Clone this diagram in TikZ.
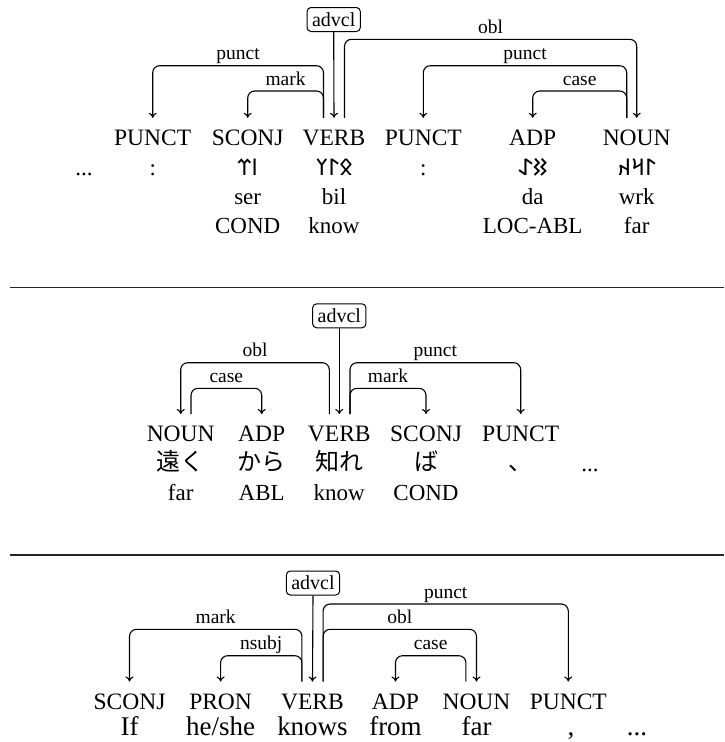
\documentclass[tikz,border=0pt]{standalone}
\usepackage{fontspec}
\usetikzlibrary{arrows.meta}
\setmainfont{Liberation Serif}
\newfontfamily\cjk{Noto Sans CJK JP}
\IfFontExistsTF{Noto Sans Old Turkic}{\newfontfamily\turk{Noto Sans Old Turkic}}{\newfontfamily\turk{DejaVu Sans}}
\TeXXeTstate=1
\begin{document}
\begin{tikzpicture}[x=1pt,y=-1pt,
  ptag/.style={anchor=base,inner sep=0pt,text height=17pt,text depth=5pt,font=\fontsize{23.5}{26}\selectfont},
  wrd/.style={anchor=base,inner sep=0pt,font=\fontsize{23}{26}\selectfont},
  rune/.style={anchor=base,inner sep=0pt,font=\turk\fontsize{23}{26}\selectfont},
  jp/.style={anchor=base,inner sep=0pt,font=\cjk\fontsize{24}{27}\selectfont},
  big/.style={anchor=base,inner sep=0pt,font=\fontsize{27}{30}\selectfont},
  lab/.style={anchor=base,inner sep=0pt,yshift=6pt,font=\fontsize{19.5}{22}\selectfont},
  dep/.style={draw,line width=1.1pt,rounded corners=7pt,-{To[length=5pt,width=8pt]}},
  rootbox/.style={draw,line width=1pt,rounded corners=4pt,inner xsep=5pt,inner ysep=4.5pt,text height=14pt,text depth=1pt,font=\fontsize{20}{22}\selectfont},
  sep/.style={line width=1.5pt,draw=black!85}
]
\useasboundingbox (0,0) rectangle (724,742);

% ---------------- diagram 1 ----------------
\coordinate (p1) at (0,39.3);
\coordinate (p2) at (0,65.7);
\coordinate (p3) at (0,91);
\node[ptag] (a1) at (152.7,145.5) {PUNCT};
\node[ptag] (a2) at (247.7,145.5) {SCONJ};
\node[ptag] (a3) at (334,145.5) {VERB};
\node[ptag] (a4) at (423.3,145.5) {PUNCT};
\node[ptag] (a5) at (532.7,145.5) {ADP};
\node[ptag] (a6) at (636.7,145.5) {NOUN};
\node[wrd] (r0) at (84,175) {...};
\node[wrd] (r1) at (152.7,175) {:};
\node[rune] (r2) at (247.7,175) {\beginR ^^^^^^010c3e^^^^^^010c3c\endR};
\node[rune] (r3) at (334,175) {\beginR ^^^^^^010c0b^^^^^^010c03^^^^^^010c20\endR};
\node[wrd] (r4) at (423.3,175) {:};
\node[rune] (r5) at (532.7,175) {\beginR ^^^^^^010c11^^^^^^010c00\endR};
\node[rune] (r6) at (636.7,175) {\beginR ^^^^^^010c03^^^^^^010c3a^^^^^^010c34\endR};
\node[wrd] (t2) at (247.7,204) {ser};
\node[wrd] (t3) at (334,204) {bil};
\node[wrd] (t5) at (532.7,204) {da};
\node[wrd] (t6) at (636.7,204) {wrk};
\node[wrd] (g2) at (247.7,233) {COND};
\node[wrd] (g3) at (334,233) {know};
\node[wrd] (g5) at (532.7,233) {LOC-ABL};
\node[wrd] (g6) at (636.7,233) {far};
\node[rootbox] (b1) at (333.7,19.5) {advcl};
\draw[dep] (b1.south) -- ([yshift=10.5pt]a3.north);
\draw[dep] ([xshift=-10.5pt,yshift=10.5pt]a3.north) |- node[lab,pos=0.75] {punct} (p2 -| a1) -- ([yshift=10.5pt]a1.north);
\draw[dep] ([xshift=-10.5pt,yshift=10.5pt]a3.north) |- node[lab,pos=0.75] {mark} (p3 -| a2) -- ([yshift=10.5pt]a2.north);
\draw[dep] ([xshift=10.5pt,yshift=10.5pt]a3.north) |- node[lab,pos=0.75] {obl} (p1 -| a6) -- ([yshift=10.5pt]a6.north);
\draw[dep] ([xshift=-10pt,yshift=10.5pt]a6.north) |- node[lab,pos=0.75] {punct} (p2 -| a4) -- ([yshift=10.5pt]a4.north);
\draw[dep] ([xshift=-10pt,yshift=10.5pt]a6.north) |- node[lab,pos=0.75] {case} (p3 -| a5) -- ([yshift=10.5pt]a5.north);

\coordinate (l1a) at (10,287.7);
\coordinate (l1b) at (724,287.7);
\draw[sep] (l1a) -- (l1b);

% ---------------- diagram 2 ----------------
\coordinate (q1) at (0,362.7);
\coordinate (q2) at (0,388.3);
\node[ptag] (c1) at (180.7,441.7) {NOUN};
\node[ptag] (c2) at (261.7,441.7) {ADP};
\node[ptag] (c3) at (339.3,441.7) {VERB};
\node[ptag] (c4) at (426,441.7) {SCONJ};
\node[ptag] (c5) at (520.7,441.7) {PUNCT};
\node[jp] (j1) at (180.7,470) {遠く};
\node[jp] (j2) at (261.7,470) {から};
\node[jp] (j3) at (339.3,470) {知れ};
\node[jp] (j4) at (426,470) {ば};
\node[jp] (j5) at (520.7,470) {、};
\node[wrd] (j6) at (590,471) {...};
\node[wrd] (h1) at (180.7,500) {far};
\node[wrd] (h2) at (261.7,500) {ABL};
\node[wrd] (h3) at (339.3,500) {know};
\node[wrd] (h4) at (426,500) {COND};
\node[rootbox] (b2) at (339.3,315.8) {advcl};
\draw[dep] (b2.south) -- ([yshift=10.5pt]c3.north);
\draw[dep] ([xshift=-10pt,yshift=10.5pt]c3.north) |- node[lab,pos=0.75] {obl} (q1 -| c1) -- ([yshift=10.5pt]c1.north);
\draw[dep] ([xshift=10.3pt,yshift=10.5pt]c1.north) |- node[lab,pos=0.75] {case} (q2 -| c2) -- ([yshift=10.5pt]c2.north);
\draw[dep] ([xshift=10.7pt,yshift=10.5pt]c3.north) |- node[lab,pos=0.75] {punct} (q1 -| c5) -- ([yshift=10.5pt]c5.north);
\draw[dep] ([xshift=10.7pt,yshift=10.5pt]c3.north) |- node[lab,pos=0.75] {mark} (q2 -| c4) -- ([yshift=10.5pt]c4.north);

\coordinate (l2a) at (10,555);
\coordinate (l2b) at (724,555);
\draw[sep] (l2a) -- (l2b);

% ---------------- diagram 3 ----------------
\coordinate (u1) at (0,604);
\coordinate (u2) at (0,629.3);
\coordinate (u3) at (0,655.7);
\node[ptag] (e1) at (129.5,709) {SCONJ};
\node[ptag] (e2) at (220.6,709) {PRON};
\node[ptag] (e3) at (312.5,709) {VERB};
\node[ptag] (e4) at (395.5,709) {ADP};
\node[ptag] (e5) at (476.5,709) {NOUN};
\node[ptag] (e6) at (568.3,709) {PUNCT};
\node[big] (w1) at (129.5,735.5) {If};
\node[big] (w2) at (220.6,735.5) {he/she};
\node[big] (w3) at (312.5,735.5) {knows};
\node[big] (w4) at (395.5,735.5) {from};
\node[big] (w5) at (476.5,735.5) {far};
\node[big] (w6) at (571,735.5) {,};
\node[big] (w7) at (637,735.5) {...};
\node[rootbox] (b3) at (313,583) {advcl};
\draw[dep] (b3.south) -- ([yshift=10.3pt]e3.north);
\draw[dep] ([xshift=-10.6pt,yshift=10.3pt]e3.north) |- node[lab,pos=0.75] {mark} (u2 -| e1) -- ([yshift=10.3pt]e1.north);
\draw[dep] ([xshift=-10.6pt,yshift=10.3pt]e3.north) |- node[lab,pos=0.75] {nsubj} (u3 -| e2) -- ([yshift=10.3pt]e2.north);
\draw[dep] ([xshift=10.6pt,yshift=10.3pt]e3.north) |- node[lab,pos=0.75] {punct} (u1 -| e6) -- ([yshift=10.3pt]e6.north);
\draw[dep] ([xshift=10.6pt,yshift=10.3pt]e3.north) |- node[lab,pos=0.75] {obl} (u2 -| e5) -- ([yshift=10.3pt]e5.north);
\draw[dep] ([xshift=-10.6pt,yshift=10.3pt]e5.north) |- node[lab,pos=0.75] {case} (u3 -| e4) -- ([yshift=10.3pt]e4.north);
\end{tikzpicture}
\end{document}
